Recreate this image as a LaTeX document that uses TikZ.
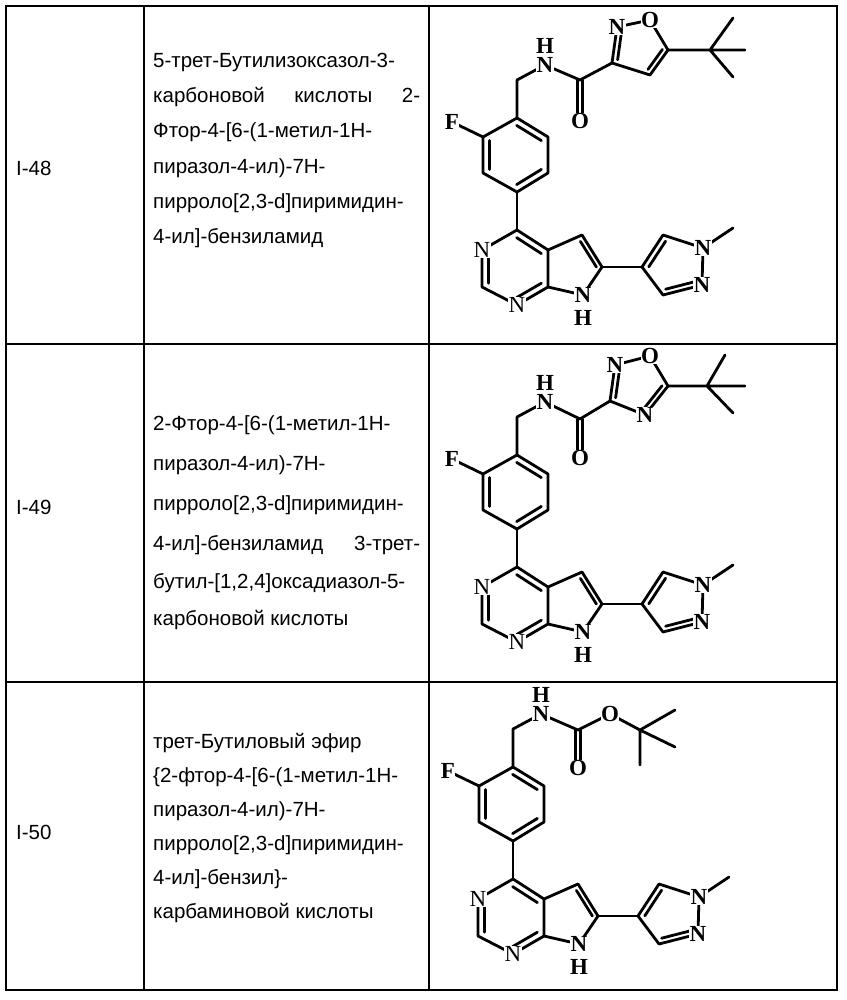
\documentclass[tikz,border=0pt]{standalone}
\usepackage{fontspec}
\setmainfont{Liberation Sans}
\newfontfamily\chem{Liberation Serif}
\usetikzlibrary{calc}
\tikzset{
  bond/.style={line width=2.8pt,line cap=round,line join=round},
  grid/.style={line width=1.5pt},
  lab/.style={font=\chem\bfseries\fontsize{23}{23}\selectfont,fill=white,inner sep=0.3pt},
  labr/.style={font=\chem\fontsize{23}{23}\selectfont,fill=white,inner sep=0.3pt},
  txt/.style={font=\fontsize{20.5}{22}\selectfont,anchor=west,inner sep=0pt},
}
\newcommand\inner[3]{\draw[bond] ($(#1)!.2!(#3)$) -- ($(#2)!.2!(#3)$);}
\newcommand\core{%
  \coordinate (ch) at (517,80); \coordinate (n) at (545,65);
  \coordinate (b1) at (517,118); \coordinate (b2) at (548,137); \coordinate (b3) at (548,173);
  \coordinate (b4) at (517,192); \coordinate (b5) at (483,173); \coordinate (b6) at (483,137);
  \coordinate (bc) at (515,155); \coordinate (f) at (452,122);
  \coordinate (p4) at (517,230); \coordinate (n3) at (482,250); \coordinate (p2) at (482,287);
  \coordinate (n1) at (517,305); \coordinate (p7a) at (548,287); \coordinate (p4a) at (548,250);
  \coordinate (pc) at (515,268);
  \coordinate (c5) at (582,235); \coordinate (c6) at (602,267); \coordinate (n7) at (583,295);
  \coordinate (rc) at (574,267);
  \coordinate (q4) at (642,267); \coordinate (q5) at (663,235); \coordinate (qn1) at (703,248);
  \coordinate (qn2) at (702,285); \coordinate (q3) at (663,295); \coordinate (qc) at (676,266);
  \coordinate (me) at (733,228);
  \draw[bond] (n) -- (ch) -- (b1);
  \draw[bond] (b1) -- (b2) -- (b3) -- (b4) -- (b5) -- (b6) -- cycle;
  \draw[bond] (f) -- (b6); \draw[bond] (b4) -- (p4);
  \inner{b1}{b2}{bc}\inner{b3}{b4}{bc}\inner{b5}{b6}{bc}
  \draw[bond] (p4) -- (n3) -- (p2) -- (n1) -- (p7a) -- (p4a) -- cycle;
  \inner{p4}{p4a}{pc}\inner{n3}{p2}{pc}\inner{n1}{p7a}{pc}
  \draw[bond] (p4a) -- (c5) -- (c6) -- (n7) -- (p7a);
  \inner{c5}{c6}{rc}
  \draw[bond] (c6) -- (q4);
  \draw[bond] (q4) -- (q5) -- (qn1) -- (qn2) -- (q3) -- cycle;
  \inner{q4}{q5}{qc}\inner{qn2}{q3}{qc}
  \draw[bond] (qn1) -- (me);
  \node[lab] at (f) {F};
  \node[labr] at (n3) {N}; \node[labr] at (n1) {N};
  \node[lab] at (n7) {N}; \node[lab,fill=none] at (583,318) {H};
  \node[lab] at (qn1) {N}; \node[lab] at (qn2) {N};
}
\begin{document}
\begin{tikzpicture}[x=1pt,y=-1pt]
\useasboundingbox (0,0) rectangle (846,1000);
\fill[white] (0,0) rectangle (846,1000);
% grid
\draw[grid] (6,6) rectangle (837,990);
\draw[grid] (6,344) -- (837,344); \draw[grid] (6,682) -- (837,682);
\draw[grid] (144,6) -- (144,990); \draw[grid] (429,6) -- (429,990);
% labels
\node[txt] (r1) at (16,168) {I-48};
\node[txt] (r2) at (16,507) {I-49};
\node[txt] (r3) at (16,832) {I-50};
% row 1 text
\node[txt] (t11) at (153,62) {5-трет-Бутилизоксазол-3-};
\node[txt] (t12) at (153,97) {\makebox[267pt][s]{карбоновой\hfill кислоты\hfill 2-}};
\node[txt] (t13) at (153,132) {Фтор-4-[6-(1-метил-1Н-};
\node[txt] (t14) at (153,168) {пиразол-4-ил)-7Н-};
\node[txt] (t15) at (153,203) {пирроло[2,3-d]пиримидин-};
\node[txt] (t16) at (153,238) {4-ил]-бензиламид};
% row 2 text
\node[txt] (t21) at (153,425) {2-Фтор-4-[6-(1-метил-1Н-};
\node[txt] (t22) at (153,465) {пиразол-4-ил)-7Н-};
\node[txt] (t23) at (153,505) {пирроло[2,3-d]пиримидин-};
\node[txt] (t24) at (153,545) {\makebox[267pt][s]{4-ил]-бензиламид\hfill 3-трет-}};
\node[txt] (t25) at (153,583) {бутил-[1,2,4]оксадиазол-5-};
\node[txt] (t26) at (153,620) {карбоновой кислоты};
% row 3 text
\node[txt] (t31) at (153,743) {трет-Бутиловый эфир};
\node[txt] (t32) at (153,777) {\{2-фтор-4-[6-(1-метил-1Н-};
\node[txt] (t33) at (153,811) {пиразол-4-ил)-7Н-};
\node[txt] (t34) at (153,845) {пирроло[2,3-d]пиримидин-};
\node[txt] (t35) at (153,879) {4-ил]-бензил\}-};
\node[txt] (t36) at (153,913) {карбаминовой кислоты};
% ---- row 1 molecule
\begin{scope}
\core
\coordinate (k) at (580,80); \coordinate (o) at (580,121);
\coordinate (i3) at (612,63); \coordinate (iN) at (617,27); \coordinate (iO) at (650,20);
\coordinate (i5) at (668,50); \coordinate (i4) at (650,75); \coordinate (ic) at (640,47);
\coordinate (t) at (710,50);
\coordinate (m1) at (733,18); \coordinate (m2) at (745,50); \coordinate (m3) at (733,77);
\draw[bond] (n) -- (k) -- (i3);
\draw[bond] (i3) -- (iN) -- (iO) -- (i5) -- (i4) -- cycle;
\draw[bond] ([xshift=-2.8pt]k) -- ([xshift=-2.8pt]o); \draw[bond] ([xshift=2.8pt]k) -- ([xshift=2.8pt]o);
\inner{i3}{iN}{ic}\inner{i5}{i4}{ic}
\draw[bond] (i5) -- (t) (t) -- (m1) (t) -- (m2) (t) -- (m3);
\node[lab] at (n) {N}; \node[lab,fill=none] at (545,46) {H};
\node[lab] at (o) {O}; \node[lab] at (iN) {N}; \node[lab] at (iO) {O};
\end{scope}
% ---- row 2 molecule
\begin{scope}[shift={(0,337)}]
\core
\coordinate (k) at (580,82); \coordinate (o) at (580,121);
\coordinate (i3) at (610,64); \coordinate (iN) at (615,28); \coordinate (iO) at (650,19);
\coordinate (i5) at (668,49); \coordinate (i4) at (645,78); \coordinate (ic) at (638,48);
\coordinate (t) at (707,49);
\coordinate (m1) at (725,18); \coordinate (m2) at (745,49); \coordinate (m3) at (733,76);
\draw[bond] (n) -- (k) -- (i3);
\draw[bond] (i3) -- (iN) -- (iO) -- (i5) -- (i4) -- cycle;
\draw[bond] ([xshift=-2.8pt]k) -- ([xshift=-2.8pt]o); \draw[bond] ([xshift=2.8pt]k) -- ([xshift=2.8pt]o);
\inner{i3}{iN}{ic}\inner{i5}{i4}{ic}
\draw[bond] (i5) -- (t) (t) -- (m1) (t) -- (m2) (t) -- (m3);
\node[lab] at (n) {N}; \node[lab,fill=none] at (545,46) {H};
\node[lab] at (o) {O}; \node[lab] at (iN) {N}; \node[lab] at (iO) {O}; \node[lab] at (i4) {N};
\end{scope}
% ---- row 3 molecule
\begin{scope}[shift={(-4,649)}]
\core
\coordinate (k) at (582,81); \coordinate (o) at (582,119);
\coordinate (eo) at (614,65); \coordinate (t) at (644,81);
\coordinate (m1) at (679,61); \coordinate (m2) at (679,98); \coordinate (m3) at (644,116);
\draw[bond] (n) -- (k) -- (eo) -- (t);
\draw[bond] ([xshift=-2.8pt]k) -- ([xshift=-2.8pt]o); \draw[bond] ([xshift=2.8pt]k) -- ([xshift=2.8pt]o);
\draw[bond] (t) -- (m1) (t) -- (m2) (t) -- (m3);
\node[lab] at (n) {N}; \node[lab,fill=none] at (545,46) {H};
\node[lab] at (o) {O}; \node[lab] at (eo) {O};
\end{scope}
\end{tikzpicture}
\end{document}
